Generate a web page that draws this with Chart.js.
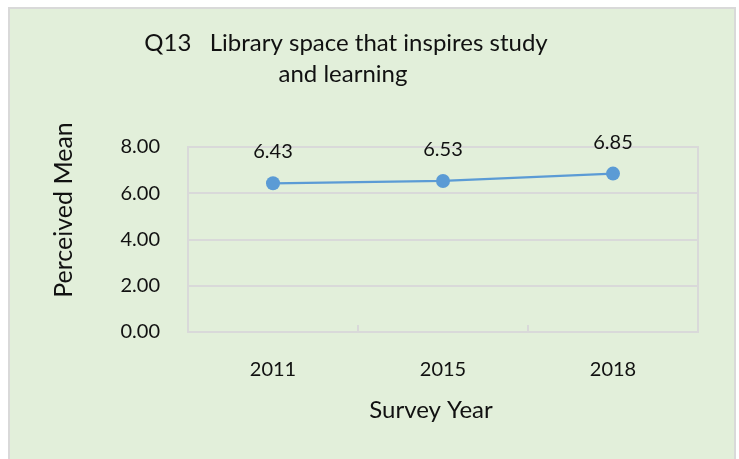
<!DOCTYPE html>
<html>
<head>
<meta charset="utf-8">
<title>Q13 Library space that inspires study and learning</title>
<script src="https://cdn.jsdelivr.net/npm/chart.js@4.4.1/dist/chart.umd.min.js"></script>
<style>
    body { margin: 0; background: #ffffff; }
    #frame {
        position: absolute; left: 8px; top: 7px; width: 724px; height: 460px;
        background: #e2efda; border: 2px solid #d9d9d9; border-bottom: none;
    }
    #wrap { position: absolute; left: 0; top: 0; width: 739px; height: 459px; }
</style>
</head>
<body>
<div id="frame"></div>
<div id="wrap"><canvas id="chart" width="739" height="459"></canvas></div>
<script>
// Data
const years = ['2011', '2015', '2018'];
const meanScores = [6.43, 6.53, 6.85];
const yTicks = [0, 2, 4, 6, 8];

const titleLines = ['Q13   Library space that inspires study', 'and learning'];
const xTitle = 'Survey Year';
const yTitle = 'Perceived Mean';

const FONT = 'Lato, "Open Sans", sans-serif';
const TEXT = '#111111';
const GRID = '#d9d9d9';
const BLUE = '#5b9bd5';

// Box round the plot area, with small inward ticks between the years
const plotFrame = {
    id: 'plotFrame',
    beforeDatasetsDraw(chart) {
        const {ctx, chartArea: a} = chart;
        const x = chart.scales.x;
        ctx.save();
        ctx.strokeStyle = GRID;
        ctx.lineWidth = 2;
        ctx.strokeRect(a.left, a.top, a.right - a.left, a.bottom - a.top);
        ctx.beginPath();
        for (let i = 1; i < years.length; i++) {
            let bx = (x.getPixelForValue(i - 1) + x.getPixelForValue(i)) / 2;
            ctx.moveTo(bx, a.bottom);
            ctx.lineTo(bx, a.bottom - 7);
        }
        ctx.stroke();
        ctx.restore();
    }
};

// Value labels above each point
const valueLabels = {
    id: 'valueLabels',
    afterDatasetsDraw(chart) {
        const {ctx} = chart;
        const meta = chart.getDatasetMeta(0);
        ctx.save();
        ctx.font = '20px ' + FONT;
        ctx.fillStyle = TEXT;
        ctx.textAlign = 'center';
        ctx.textBaseline = 'alphabetic';
        meta.data.forEach((pt, i) => {
            ctx.fillText(meanScores[i].toFixed(2), pt.x, pt.y - 25);
        });
        ctx.restore();
    }
};

// Chart title and axis titles, placed like the Excel original
const titles = {
    id: 'titles',
    afterDraw(chart) {
        const {ctx} = chart;
        ctx.save();
        ctx.fillStyle = TEXT;
        ctx.textAlign = 'center';
        ctx.textBaseline = 'alphabetic';
        ctx.font = '24px ' + FONT;
        ctx.fillText(titleLines[0], 346, 51);
        ctx.fillText(titleLines[1], 343, 82);
        ctx.font = '24px ' + FONT;
        ctx.fillText(xTitle, 431, 418);
        ctx.font = '25px ' + FONT;
        ctx.translate(72, 210);
        ctx.rotate(-Math.PI / 2);
        ctx.fillText(yTitle, 0, 0);
        ctx.restore();
    }
};

new Chart(document.getElementById('chart'), {
    type: 'line',
    data: {
        labels: years,
        datasets: [{
            label: yTitle,
            data: meanScores,
            borderColor: BLUE,
            backgroundColor: BLUE,
            borderWidth: 2.25,
            pointRadius: 7,
            pointHoverRadius: 7,
            pointBorderWidth: 0,
            pointBackgroundColor: BLUE,
            tension: 0
        }]
    },
    options: {
        responsive: false,
        animation: false,
        events: [],
        layout: {padding: {top: 147, right: 41, left: 0, bottom: 0}},
        plugins: {
            legend: {display: false},
            tooltip: {enabled: false},
            title: {display: false}
        },
        scales: {
            x: {
                offset: true,
                grid: {display: false, drawTicks: false},
                border: {display: false},
                ticks: {font: {family: FONT, size: 20}, color: TEXT, padding: 26},
                afterFit: (s) => { s.height = 127; }
            },
            y: {
                min: yTicks[0],
                max: yTicks[yTicks.length - 1],
                afterBuildTicks: (s) => { s.ticks = yTicks.map(v => ({value: v})); },
                grid: {color: GRID, lineWidth: 2, drawTicks: false},
                border: {display: false},
                ticks: {
                    font: {family: FONT, size: 20}, color: TEXT, padding: 28,
                    callback: (v) => Number(v).toFixed(2)
                },
                afterFit: (s) => { s.width = 188; }
            }
        }
    },
    plugins: [plotFrame, valueLabels, titles]
});
</script>
</body>
</html>
